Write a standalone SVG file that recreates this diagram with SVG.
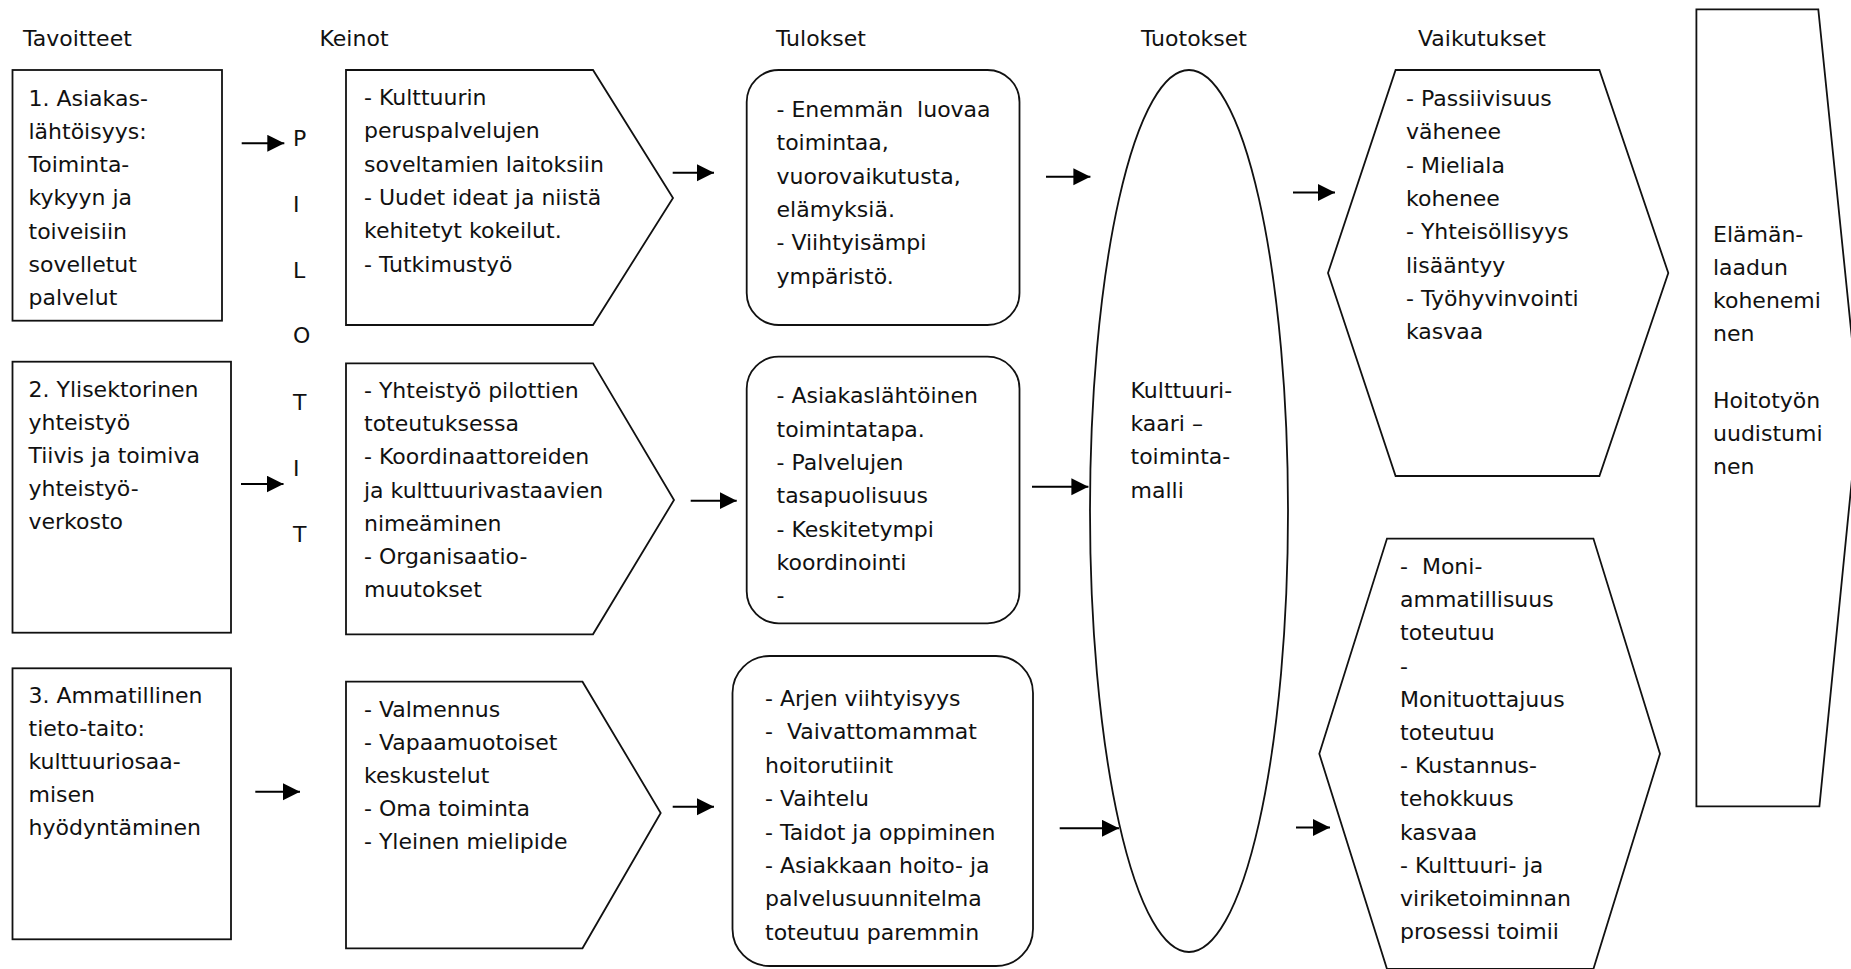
<svg xmlns="http://www.w3.org/2000/svg" width="1851" height="969" viewBox="0 0 1851 969">
<defs>
<style>
.t{font-family:"DejaVu Sans","Liberation Sans",sans-serif;font-size:22px;fill:#111;white-space:pre}
.s{fill:#fff;stroke:#111;stroke-width:1.8}
.c{stroke:#000;stroke-width:2;fill:none;marker-end:url(#ah)}
</style>
<marker id="ah" markerUnits="userSpaceOnUse" markerWidth="18" markerHeight="18" refX="17" refY="8.5" orient="auto">
<path d="M0,0 L17,8.5 L0,17 z" fill="#000"/>
</marker>
</defs>
<rect width="1851" height="969" fill="#fff"/>

<g id="headers">
<text class="t" x="23" y="46">Tavoitteet</text>
<text class="t" x="319.5" y="46">Keinot</text>
<text class="t" x="776" y="46">Tulokset</text>
<text class="t" x="1141" y="46">Tuotokset</text>
<text class="t" x="1418" y="46">Vaikutukset</text>
</g>

<g id="tavoite1">
<rect class="s" x="12.5" y="70" width="209.5" height="250.7"/>
<text class="t"><tspan x="28.5" y="105.5">1. Asiakas-</tspan><tspan x="28.5" y="138.8">lähtöisyys:</tspan><tspan x="28.5" y="172.1">Toiminta-</tspan><tspan x="28.5" y="205.4">kykyyn ja</tspan><tspan x="28.5" y="238.7">toiveisiin</tspan><tspan x="28.5" y="272">sovelletut</tspan><tspan x="28.5" y="305.3">palvelut</tspan></text>
</g>
<g id="tavoite2">
<rect class="s" x="12.5" y="361.7" width="218.5" height="271"/>
<text class="t"><tspan x="28.5" y="397">2. Ylisektorinen</tspan><tspan x="28.5" y="430">yhteistyö</tspan><tspan x="28.5" y="463">Tiivis ja toimiva</tspan><tspan x="28.5" y="496">yhteistyö-</tspan><tspan x="28.5" y="529">verkosto</tspan></text>
</g>
<g id="tavoite3">
<rect class="s" x="12.5" y="668.3" width="218.5" height="271"/>
<text class="t"><tspan x="28.5" y="702.5">3. Ammatillinen</tspan><tspan x="28.5" y="735.7">tieto-taito:</tspan><tspan x="28.5" y="768.9">kulttuuriosaa-</tspan><tspan x="28.5" y="802.1">misen</tspan><tspan x="28.5" y="835.3">hyödyntäminen</tspan></text>
</g>

<g id="pilotit">
<text class="t" x="293" y="146">P</text>
<text class="t" x="293" y="212">I</text>
<text class="t" x="293" y="277.5">L</text>
<text class="t" x="293" y="343">O</text>
<text class="t" x="293" y="409.5">T</text>
<text class="t" x="293" y="476">I</text>
<text class="t" x="293" y="542">T</text>
</g>

<g id="keino1">
<polygon class="s" points="346,70 593,70 673,198 593,325 346,325"/>
<text class="t"><tspan x="364" y="105">- Kulttuurin</tspan><tspan x="364" y="138.3">peruspalvelujen</tspan><tspan x="364" y="171.6">soveltamien laitoksiin</tspan><tspan x="364" y="204.9">- Uudet ideat ja niistä</tspan><tspan x="364" y="238.2">kehitetyt kokeilut.</tspan><tspan x="364" y="271.5">- Tutkimustyö</tspan></text>
</g>
<g id="keino2">
<polygon class="s" points="346,363.3 593,363.3 674,500 593,634.3 346,634.3"/>
<text class="t"><tspan x="364" y="398">- Yhteistyö pilottien</tspan><tspan x="364" y="431.2">toteutuksessa</tspan><tspan x="364" y="464.4">- Koordinaattoreiden</tspan><tspan x="364" y="497.6">ja kulttuurivastaavien</tspan><tspan x="364" y="530.8">nimeäminen</tspan><tspan x="364" y="564">- Organisaatio-</tspan><tspan x="364" y="597.2">muutokset</tspan></text>
</g>
<g id="keino3">
<polygon class="s" points="346,681.7 582.5,681.7 660.7,813 582.5,948.3 346,948.3"/>
<text class="t"><tspan x="364" y="716.5">- Valmennus</tspan><tspan x="364" y="749.7">- Vapaamuotoiset</tspan><tspan x="364" y="782.9">keskustelut</tspan><tspan x="364" y="816.1">- Oma toiminta</tspan><tspan x="364" y="849.3">- Yleinen mielipide</tspan></text>
</g>

<g id="tulos1">
<rect class="s" x="746.7" y="70" width="272.8" height="255" rx="32" ry="32"/>
<text class="t"><tspan x="776.5" y="117">- Enemmän  luovaa</tspan><tspan x="776.5" y="150.3">toimintaa,</tspan><tspan x="776.5" y="183.6">vuorovaikutusta,</tspan><tspan x="776.5" y="216.9">elämyksiä.</tspan><tspan x="776.5" y="250.2">- Viihtyisämpi</tspan><tspan x="776.5" y="283.5">ympäristö.</tspan></text>
</g>
<g id="tulos2">
<rect class="s" x="746.7" y="356.7" width="272.8" height="266.6" rx="32" ry="32"/>
<text class="t"><tspan x="776.5" y="403.3">- Asiakaslähtöinen</tspan><tspan x="776.5" y="436.6">toimintatapa.</tspan><tspan x="776.5" y="469.9">- Palvelujen</tspan><tspan x="776.5" y="503.2">tasapuolisuus</tspan><tspan x="776.5" y="536.5">- Keskitetympi</tspan><tspan x="776.5" y="569.8">koordinointi</tspan><tspan x="776.5" y="603.1">-</tspan></text>
</g>
<g id="tulos3">
<rect class="s" x="732.5" y="656" width="300.5" height="310" rx="37" ry="37"/>
<text class="t"><tspan x="765" y="706">- Arjen viihtyisyys</tspan><tspan x="765" y="739.4">-  Vaivattomammat</tspan><tspan x="765" y="772.8">hoitorutiinit</tspan><tspan x="765" y="806.2">- Vaihtelu</tspan><tspan x="765" y="839.6">- Taidot ja oppiminen</tspan><tspan x="765" y="873">- Asiakkaan hoito- ja</tspan><tspan x="765" y="906.4">palvelusuunnitelma</tspan><tspan x="765" y="939.8">toteutuu paremmin</tspan></text>
</g>

<g id="tuotos">
<ellipse class="s" cx="1189" cy="511" rx="99" ry="441"/>
<text class="t"><tspan x="1130.5" y="398">Kulttuuri-</tspan><tspan x="1130.5" y="431.2">kaari –</tspan><tspan x="1130.5" y="464.4">toiminta-</tspan><tspan x="1130.5" y="497.6">malli</tspan></text>
</g>

<g id="vaikutus1">
<polygon class="s" points="1395.6,70 1599.4,70 1668.3,273 1599.4,476 1395.6,476 1328,273"/>
<text class="t"><tspan x="1406" y="106">- Passiivisuus</tspan><tspan x="1406" y="139.3">vähenee</tspan><tspan x="1406" y="172.6">- Mieliala</tspan><tspan x="1406" y="205.9">kohenee</tspan><tspan x="1406" y="239.2">- Yhteisöllisyys</tspan><tspan x="1406" y="272.5">lisääntyy</tspan><tspan x="1406" y="305.8">- Työhyvinvointi</tspan><tspan x="1406" y="339.1">kasvaa</tspan></text>
</g>
<g id="vaikutus2">
<polygon class="s" points="1387,538.6 1593.4,538.6 1660,753.8 1593.4,969 1387,969 1319.3,753.8"/>
<text class="t"><tspan x="1400" y="574">-  Moni-</tspan><tspan x="1400" y="607.2">ammatillisuus</tspan><tspan x="1400" y="640.4">toteutuu</tspan><tspan x="1400" y="673.6">-</tspan><tspan x="1400" y="706.8">Monituottajuus</tspan><tspan x="1400" y="740">toteutuu</tspan><tspan x="1400" y="773.2">- Kustannus-</tspan><tspan x="1400" y="806.4">tehokkuus</tspan><tspan x="1400" y="839.6">kasvaa</tspan><tspan x="1400" y="872.8">- Kulttuuri- ja</tspan><tspan x="1400" y="906">viriketoiminnan</tspan><tspan x="1400" y="939.2">prosessi toimii</tspan></text>
</g>

<g id="elamanlaatu">
<polygon class="s" points="1696.4,9.3 1818.3,9.3 1859,408 1819.4,806.4 1696.4,806.4"/>
<text class="t"><tspan x="1713" y="241.5">Elämän-</tspan><tspan x="1713" y="274.7">laadun</tspan><tspan x="1713" y="307.9">kohenemi</tspan><tspan x="1713" y="341.1">nen</tspan><tspan x="1713" y="407.5">Hoitotyön</tspan><tspan x="1713" y="440.7">uudistumi</tspan><tspan x="1713" y="473.9">nen</tspan></text>
</g>

<g id="connectors">
<line class="c" x1="241.7" y1="143.3" x2="284.3" y2="143.3"/>
<line class="c" x1="241" y1="484" x2="283.5" y2="484"/>
<line class="c" x1="255.3" y1="791.7" x2="300" y2="791.7"/>
<line class="c" x1="672.7" y1="172.7" x2="714" y2="172.7"/>
<line class="c" x1="690.7" y1="500.7" x2="736.7" y2="500.7"/>
<line class="c" x1="672.7" y1="806.7" x2="714" y2="806.7"/>
<line class="c" x1="1046" y1="176.7" x2="1090.4" y2="176.7"/>
<line class="c" x1="1032" y1="486.7" x2="1088.4" y2="486.7"/>
<line class="c" x1="1059.7" y1="828.3" x2="1119" y2="828.3"/>
<line class="c" x1="1293" y1="192.5" x2="1335" y2="192.5"/>
<line class="c" x1="1296" y1="827.5" x2="1330" y2="827.5"/>
</g>
</svg>
